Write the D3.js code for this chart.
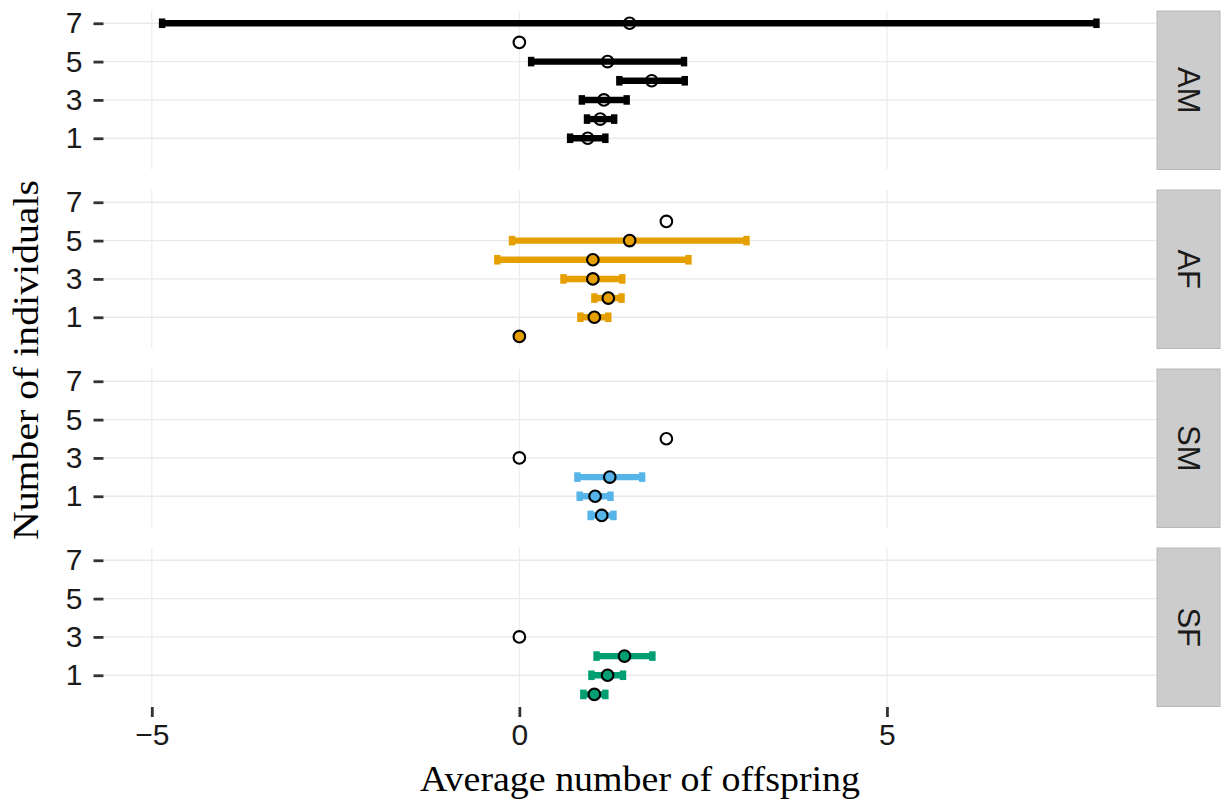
<!DOCTYPE html>
<html>
<head>
<meta charset="utf-8">
<script src="https://cdn.jsdelivr.net/npm/d3@7"></script>
<style>
  html, body { margin: 0; padding: 0; background: #ffffff; }
  svg { display: block; }
</style>
</head>
<body>
<svg id="chart" width="1227" height="802"></svg>
<script>
// Facet labels and colours
const panels = ["AM", "AF", "SM", "SF"];
const lineColors = ["#000000", "#E69F00", "#56B4E9", "#009E73"];
const pointFills = ["none", "#E69F00", "#56B4E9", "#009E73"];

// Estimates with intervals, one set per facet
const amCount = [7, 5, 4, 3, 2, 1];
const amMean  = [1.50, 1.20, 1.80, 1.15, 1.10, 0.93];
const amLow   = [-4.86, 0.16, 1.36, 0.85, 0.92, 0.69];
const amHigh  = [7.85, 2.24, 2.25, 1.46, 1.29, 1.17];

const afCount = [5, 4, 3, 2, 1, 0];
const afMean  = [1.50, 1.00, 1.00, 1.21, 1.02, 0.00];
const afLow   = [-0.10, -0.30, 0.60, 1.02, 0.83, 0.00];
const afHigh  = [3.09, 2.30, 1.40, 1.39, 1.21, 0.00];

const smCount = [2, 1, 0];
const smMean  = [1.23, 1.03, 1.12];
const smLow   = [0.79, 0.82, 0.97];
const smHigh  = [1.67, 1.24, 1.28];

const sfCount = [2, 1, 0];
const sfMean  = [1.43, 1.20, 1.02];
const sfLow   = [1.05, 0.98, 0.87];
const sfHigh  = [1.81, 1.41, 1.17];

// Observed values drawn as open circles
const amOpenCount = [6];  const amOpenValue = [0];
const afOpenCount = [6];  const afOpenValue = [2];
const smOpenCount = [4, 3]; const smOpenValue = [2, 0];
const sfOpenCount = [3];  const sfOpenValue = [0];

const xTicks = [-5, 0, 5];
const yTicks = [1, 3, 5, 7];

const intervalSets = [
  [amCount, amMean, amLow, amHigh],
  [afCount, afMean, afLow, afHigh],
  [smCount, smMean, smLow, smHigh],
  [sfCount, sfMean, sfLow, sfHigh]
];
const openSets = [
  [amOpenCount, amOpenValue],
  [afOpenCount, afOpenValue],
  [smOpenCount, smOpenValue],
  [sfOpenCount, sfOpenValue]
];

// Layout
const svg = d3.select("#chart");
const plotLeft = 104, plotRight = 1156;
const stripLeft = 1157, stripRight = 1220;
const panelTop0 = 11, panelH = 158.5, panelStep = 179;
const sansFont = "'Liberation Sans', Arial, sans-serif";
const serifFont = "'Liberation Serif', 'Times New Roman', serif";

const x = d3.scaleLinear().domain([-5.65, 8.66]).range([plotLeft, plotRight]);
const capHalf = 4.8;
const barWidth = 6.4;
const pointR = 5.8;

panels.forEach((name, i) => {
  const top = panelTop0 + i * panelStep;
  const y = d3.scaleLinear().domain([-0.63, 7.64]).range([top + panelH, top]);
  const g = svg.append("g");

  // grid
  g.selectAll("line.hgrid").data(yTicks).join("line")
    .attr("x1", plotLeft).attr("x2", plotRight)
    .attr("y1", d => y(d)).attr("y2", d => y(d))
    .attr("stroke", "#e9e9e9").attr("stroke-width", 1.3);
  g.selectAll("line.vgrid").data(xTicks).join("line")
    .attr("x1", d => x(d)).attr("x2", d => x(d))
    .attr("y1", top).attr("y2", top + panelH)
    .attr("stroke", "#ededed").attr("stroke-width", 1.3);

  // left axis
  const yAxis = d3.axisLeft(y).tickValues(yTicks).tickSize(10).tickPadding(11).tickFormat(d3.format("d"));
  const ya = g.append("g").attr("transform", `translate(${plotLeft - 0.5},0)`).call(yAxis);
  ya.select(".domain").remove();
  ya.selectAll(".tick line").attr("stroke", "#333333").attr("stroke-width", 2.8);
  ya.selectAll(".tick text").attr("fill", "#1a1a1a").attr("font-family", sansFont).attr("font-size", 30);

  // strip
  g.append("rect").attr("x", stripLeft).attr("y", top)
    .attr("width", stripRight - stripLeft).attr("height", panelH)
    .attr("fill", "#cccccc").attr("stroke", "#b8b8b8").attr("stroke-width", 1);
  const cx = (stripLeft + stripRight) / 2, cy = top + panelH / 2;
  g.append("text").attr("transform", `translate(${cx},${cy}) rotate(90)`)
    .attr("text-anchor", "middle").attr("dy", "0.35em")
    .attr("font-family", sansFont).attr("font-size", 31).attr("fill", "#1a1a1a")
    .text(name);

  // intervals
  const [cnt, mean, lo, hi] = intervalSets[i];
  const rows = cnt.map((c, k) => ({ c, m: mean[k], lo: lo[k], hi: hi[k] }));
  const color = lineColors[i];
  const bars = rows.filter(r => r.hi > r.lo);
  g.selectAll("line.bar").data(bars).join("line")
    .attr("x1", r => x(r.lo)).attr("x2", r => x(r.hi))
    .attr("y1", r => y(r.c)).attr("y2", r => y(r.c))
    .attr("stroke", color).attr("stroke-width", barWidth);
  const caps = bars.flatMap(r => [{ v: r.lo, c: r.c }, { v: r.hi, c: r.c }]);
  g.selectAll("line.cap").data(caps).join("line")
    .attr("x1", d => x(d.v)).attr("x2", d => x(d.v))
    .attr("y1", d => y(d.c) - capHalf).attr("y2", d => y(d.c) + capHalf)
    .attr("stroke", color).attr("stroke-width", barWidth);

  // estimate points
  g.selectAll("circle.est").data(rows).join("circle")
    .attr("cx", r => x(r.m)).attr("cy", r => y(r.c)).attr("r", pointR)
    .attr("fill", pointFills[i]).attr("stroke", "#000000").attr("stroke-width", 2.1);

  // open circles
  const [oc, ov] = openSets[i];
  g.selectAll("circle.open").data(oc.map((c, k) => ({ c, v: ov[k] }))).join("circle")
    .attr("cx", d => x(d.v)).attr("cy", d => y(d.c)).attr("r", pointR)
    .attr("fill", "#ffffff").attr("stroke", "#000000").attr("stroke-width", 2.1);

  // bottom axis on the last facet
  if (i === panels.length - 1) {
    const xAxis = d3.axisBottom(x).tickValues(xTicks).tickSize(10).tickPadding(7)
      .tickFormat(d => d < 0 ? "\u2212" + Math.abs(d) : String(d));
    const xa = g.append("g").attr("transform", `translate(0,${top + panelH + 0.5})`).call(xAxis);
    xa.select(".domain").remove();
    xa.selectAll(".tick line").attr("stroke", "#333333").attr("stroke-width", 2.8);
    xa.selectAll(".tick text").attr("fill", "#1a1a1a").attr("font-family", sansFont).attr("font-size", 30);
  }
});

// axis titles
svg.append("text")
  .attr("x", 640).attr("y", 791)
  .attr("text-anchor", "middle")
  .attr("font-family", serifFont).attr("font-size", 35).attr("fill", "#000000")
  .attr("textLength", 440).attr("lengthAdjust", "spacingAndGlyphs")
  .text("Average number of offspring");

svg.append("text")
  .attr("transform", `translate(38,360) rotate(-90)`)
  .attr("text-anchor", "middle")
  .attr("font-family", serifFont).attr("font-size", 35).attr("fill", "#000000")
  .attr("textLength", 360).attr("lengthAdjust", "spacingAndGlyphs")
  .text("Number of individuals");
</script>
</body>
</html>
